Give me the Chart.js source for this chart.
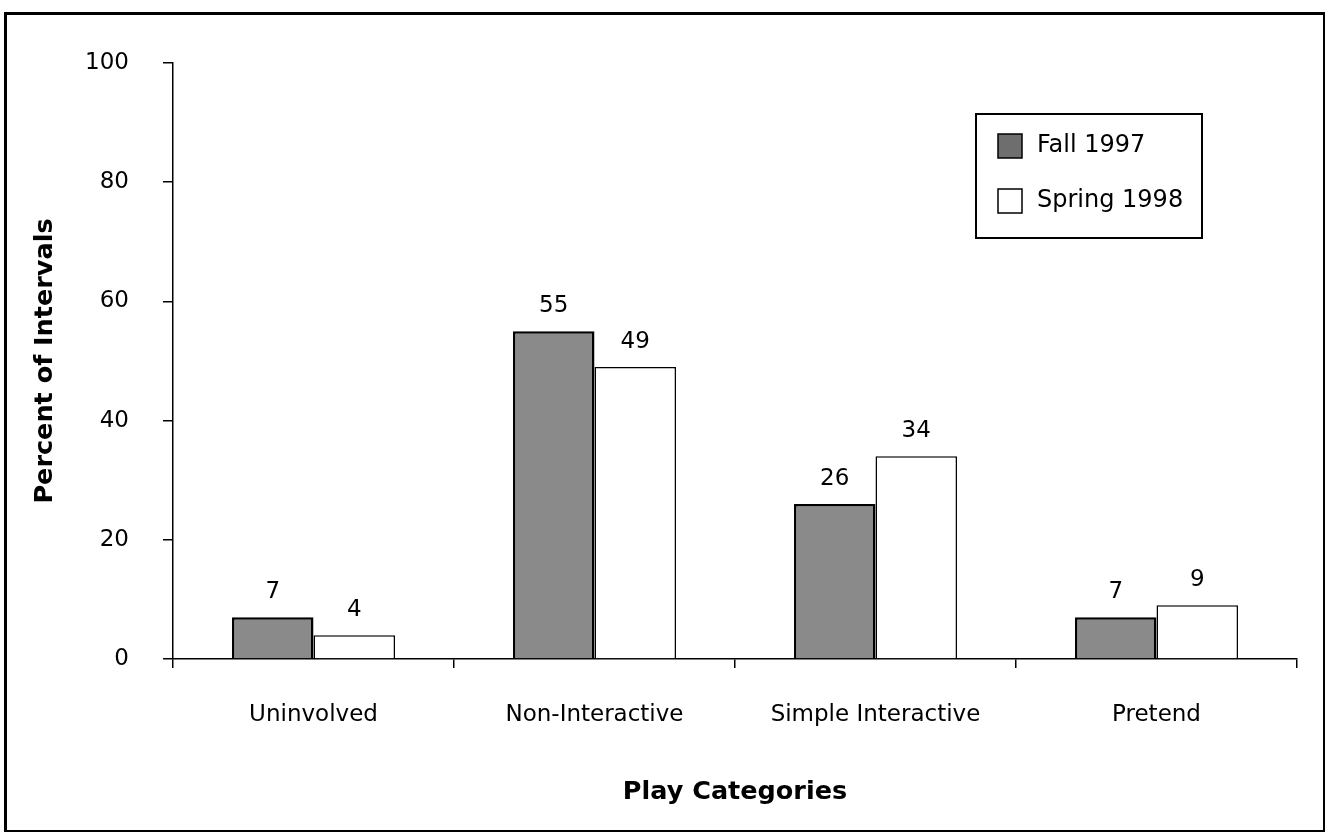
<!DOCTYPE html>
<html lang="en">
<head>
    <meta charset="UTF-8">
    <title>Play Categories</title>
    <script src="https://cdn.jsdelivr.net/npm/chart.js"></script>
    <style>
        body { margin: 0; background: #fff; }
        #wrap { position: relative; width: 1325px; height: 832px; }
        #frame {
            position: absolute; left: 4px; top: 12px; width: 1316px; height: 815px;
            border: 3px solid #000; pointer-events: none;
        }
    </style>
</head>
<body>
    <div id="wrap">
        <canvas id="chart" width="1325" height="832"></canvas>
        <div id="frame"></div>
    </div>

    <script>
        // Data
        const categories = ['Uninvolved', 'Non-Interactive', 'Simple Interactive', 'Pretend'];
        const fall1997 = [7, 55, 26, 7];
        const spring1998 = [4, 49, 34, 9];
        const seriesNames = ['Fall 1997', 'Spring 1998'];
        const yTicks = [0, 20, 40, 60, 80, 100];

        const FONT = '"DejaVu Sans", Verdana, sans-serif';

        // value labels above each bar
        const valueLabels = {
            id: 'valueLabels',
            afterDatasetsDraw(chart) {
                const ctx = chart.ctx;
                ctx.save();
                ctx.font = '23px ' + FONT;
                ctx.fillStyle = '#000';
                ctx.textAlign = 'center';
                ctx.textBaseline = 'middle';
                chart.data.datasets.forEach((ds, i) => {
                    chart.getDatasetMeta(i).data.forEach((bar, j) => {
                        ctx.fillText(String(ds.data[j]), bar.x, bar.y - 25);
                    });
                });
                ctx.restore();
            }
        };

        // boxed legend in the upper right of the plot
        const boxLegend = {
            id: 'boxLegend',
            afterDraw(chart) {
                const ctx = chart.ctx;
                const x0 = 976, y0 = 114, w = 226, h = 124;
                ctx.save();
                ctx.fillStyle = '#fff';
                ctx.fillRect(x0, y0, w, h);
                ctx.strokeStyle = '#000';
                ctx.lineWidth = 2;
                ctx.strokeRect(x0, y0, w, h);
                ctx.font = '24px ' + FONT;
                ctx.textAlign = 'left';
                ctx.textBaseline = 'middle';
                chart.data.datasets.forEach((ds, i) => {
                    const cy = y0 + 32 + i * 55;
                    ctx.fillStyle = i === 0 ? '#6e6e6e' : ds.backgroundColor;
                    ctx.fillRect(998, cy - 12, 24, 24);
                    ctx.lineWidth = 1.5;
                    ctx.strokeStyle = '#000';
                    ctx.strokeRect(998, cy - 12, 24, 24);
                    ctx.fillStyle = '#000';
                    ctx.fillText(ds.label, 1037, cy);
                });
                ctx.restore();
            }
        };

        const ctx = document.getElementById('chart').getContext('2d');
        const chart = new Chart(ctx, {
            type: 'bar',
            data: {
                labels: categories,
                datasets: [{
                    label: seriesNames[0],
                    data: fall1997,
                    backgroundColor: '#8a8a8a',
                    borderColor: '#000',
                    borderWidth: 2.5
                }, {
                    label: seriesNames[1],
                    data: spring1998,
                    backgroundColor: '#ffffff',
                    borderColor: '#000',
                    borderWidth: 1.5
                }]
            },
            options: {
                responsive: false,
                animation: false,
                devicePixelRatio: 1,
                layout: { padding: { left: 5, right: 28, top: 63, bottom: 0 } },
                datasets: {
                    bar: { categoryPercentage: 0.58, barPercentage: 1.0 }
                },
                plugins: {
                    legend: { display: false },
                    tooltip: { enabled: false }
                },
                scales: {
                    x: {
                        grid: {
                            display: true, drawOnChartArea: false, drawTicks: true,
                            tickLength: 9, color: '#000', lineWidth: 1.5, offset: true
                        },
                        border: { display: true, color: '#000', width: 1.5 },
                        ticks: {
                            color: '#000', padding: 33,
                            font: { family: FONT, size: 23 }
                        },
                        title: {
                            display: true, text: 'Play Categories', color: '#000',
                            font: { family: FONT, size: 25.5, weight: 'bold' },
                            padding: { top: 0, bottom: 24 }
                        },
                        afterFit(scale) { scale.height = 173; }
                    },
                    y: {
                        min: 0,
                        max: 100,
                        afterBuildTicks(scale) { scale.ticks = yTicks.map(v => ({ value: v })); },
                        grid: {
                            display: true, drawOnChartArea: false, drawTicks: true,
                            tickLength: 10, color: '#000', lineWidth: 1.5
                        },
                        border: { display: true, color: '#000', width: 1.5 },
                        ticks: {
                            color: '#000', padding: 34,
                            font: { family: FONT, size: 23 }
                        },
                        title: {
                            display: true, text: 'Percent of Intervals', color: '#000',
                            font: { family: FONT, size: 25.5, weight: 'bold' },
                            padding: { top: 25, bottom: 0 }
                        },
                        afterFit(scale) { scale.width = 168; }
                    }
                }
            },
            plugins: [valueLabels, boxLegend]
        });
    </script>
</body>
</html>
